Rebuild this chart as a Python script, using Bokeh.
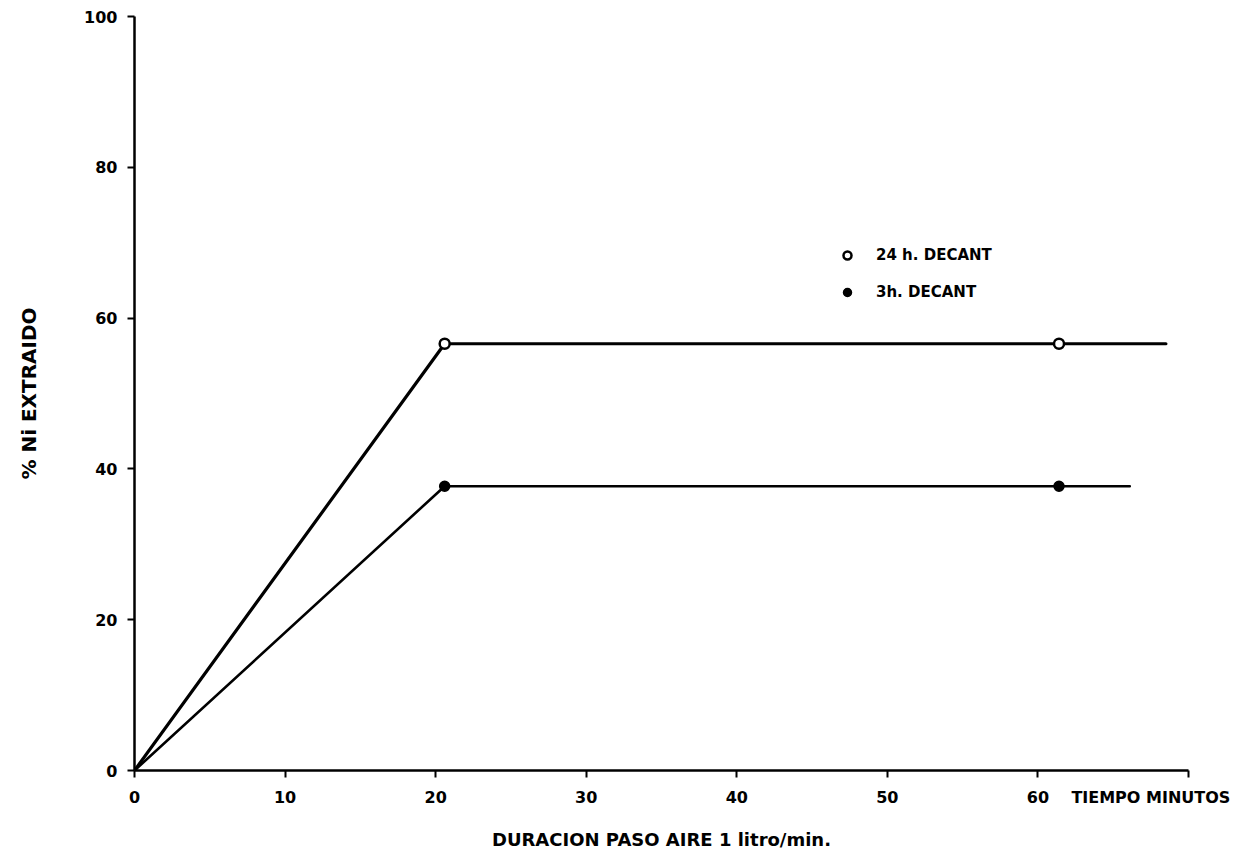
from bokeh.plotting import figure
from bokeh.models import Range1d, FixedTicker, Legend, LegendItem
from bokeh.embed import file_html
from bokeh.resources import INLINE

# ---- data ----
x_24h = [0, 20.6, 61.4, 68.5]
y_24h = [0, 56.6, 56.6, 56.6]
x_3h = [0, 20.6, 61.4, 66.1]
y_3h = [0, 37.7, 37.7, 37.7]
pts_x_24h = [20.6, 61.4]
pts_y_24h = [56.6, 56.6]
pts_x_3h = [20.6, 61.4]
pts_y_3h = [37.7, 37.7]
x_tick_marks = [0, 10, 20, 30, 40, 50, 60, 70]
x_tick_labels = [0, 10, 20, 30, 40, 50, 60]
y_ticks = [0, 20, 40, 60, 80, 100]
label_24h = "24 h. DECANT"
label_3h = "3h. DECANT"
x_title = "DURACION PASO AIRE 1 litro/min."
y_title = "% Ni EXTRAIDO"
x_unit_text = "TIEMPO MINUTOS"
x_unit_pos = 67.5

FONT = "DejaVu Sans"

p = figure(width=1242, height=853, output_backend="svg", toolbar_location=None,
           x_range=Range1d(0, 70), y_range=Range1d(0, 100))
p.min_border_left = 134
p.min_border_right = 54
p.min_border_top = 16
p.min_border_bottom = 83
p.outline_line_color = None
p.xgrid.grid_line_color = None
p.ygrid.grid_line_color = None
p.background_fill_color = "white"
p.border_fill_color = "white"

# lines
p.line(x_24h, y_24h, line_color="black", line_width=3.2, line_cap="round", line_join="round")
p.line(x_3h, y_3h, line_color="black", line_width=2.6, line_cap="round", line_join="round")

# markers
r24 = p.scatter(pts_x_24h, pts_y_24h, marker="circle", size=10, fill_color="white",
                line_color="black", line_width=2.5)
r3 = p.scatter(pts_x_3h, pts_y_3h, marker="circle", size=10, fill_color="black",
               line_color="black", line_width=1.5)

# axes
for ax in (p.xaxis[0], p.yaxis[0]):
    ax.axis_line_width = 2.5
    ax.axis_line_color = "black"
    ax.major_tick_line_width = 2
    ax.major_tick_line_color = "black"
    ax.major_tick_in = 0
    ax.major_tick_out = 7
    ax.major_label_text_font = FONT
    ax.major_label_text_font_style = "bold"
    ax.major_label_text_font_size = "16px"
    ax.major_label_text_color = "black"
    ax.axis_label_text_font = FONT
    ax.axis_label_text_font_style = "bold"
    ax.axis_label_text_color = "black"

# x axis: visible tick marks are the "minor" ticks; labels (incl. unit text) on major ticks
xax = p.xaxis[0]
xax.ticker = FixedTicker(ticks=x_tick_labels + [x_unit_pos], minor_ticks=x_tick_marks)
xax.major_tick_line_color = None
xax.minor_tick_line_color = "black"
xax.minor_tick_line_width = 2
xax.minor_tick_in = 0
xax.minor_tick_out = 7
xax.major_label_overrides = {x_unit_pos: x_unit_text}
xax.major_label_standoff = 10
xax.axis_label = x_title
xax.axis_label_text_font_size = "18px"
xax.axis_label_standoff = 19

yax = p.yaxis[0]
yax.ticker = FixedTicker(ticks=y_ticks)
yax.minor_tick_line_color = None
yax.major_label_standoff = 10
yax.axis_label = y_title
yax.axis_label_text_font_size = "20px"
yax.axis_label_standoff = 40

# legend
legend = Legend(items=[LegendItem(label=label_24h, renderers=[r24]),
                       LegendItem(label=label_3h, renderers=[r3])],
                location=(703, 468))
legend.background_fill_alpha = 0
legend.border_line_alpha = 0
legend.label_text_font = FONT
legend.label_text_font_style = "bold"
legend.label_text_font_size = "15px"
legend.label_text_color = "black"
legend.glyph_width = 20
legend.glyph_height = 20
legend.label_height = 20
legend.spacing = 17
legend.padding = 0
legend.margin = 0
legend.label_standoff = 19
p.add_layout(legend)

open("out.html", "w").write(file_html(p, INLINE))
